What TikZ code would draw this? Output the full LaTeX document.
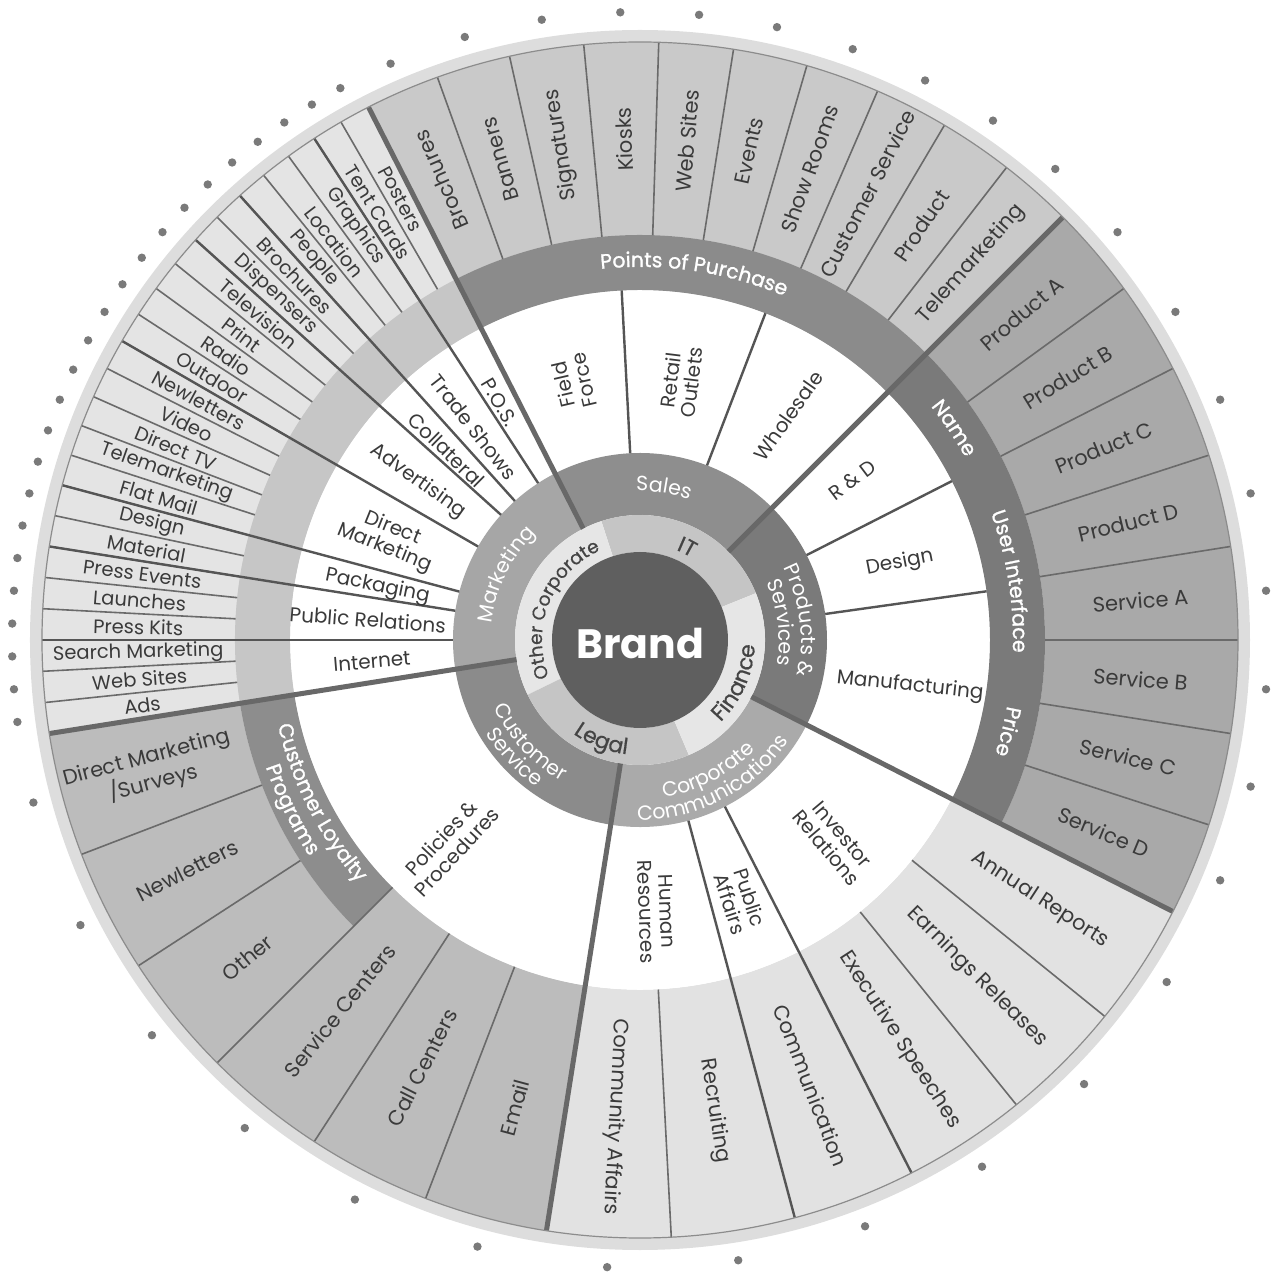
\documentclass[tikz,border=0pt]{standalone}
\usepackage{fontspec}
\setmainfont{Poppins}
\newfontfamily\semibold[FakeBold=1.2]{Poppins}
\newfontfamily\medweight[FakeBold=0.6]{Poppins}
\usetikzlibrary{decorations.text}
\definecolor{txt}{HTML}{3A3A3A}
\definecolor{ringtxt}{HTML}{444444}
\definecolor{cRim}{HTML}{DDDDDD}
\definecolor{cEdge}{HTML}{8C8C8C}
\definecolor{cMkSeg}{HTML}{E4E4E4}
\definecolor{cMkBand}{HTML}{C6C6C6}
\definecolor{cSaSeg}{HTML}{C9C9C9}
\definecolor{cSaBand}{HTML}{8B8B8B}
\definecolor{cPrSeg}{HTML}{A9A9A9}
\definecolor{cPrBand}{HTML}{7A7A7A}
\definecolor{cCcSeg}{HTML}{E2E2E2}
\definecolor{cCsSeg}{HTML}{BCBCBC}
\definecolor{cCsBand}{HTML}{8D8D8D}
\definecolor{cRSa}{HTML}{8E8E8E}
\definecolor{cRMk}{HTML}{A6A6A6}
\definecolor{cRPr}{HTML}{7A7A7A}
\definecolor{cRCs}{HTML}{8B8B8B}
\definecolor{cRCc}{HTML}{AAAAAA}
\definecolor{cIDark}{HTML}{C5C5C5}
\definecolor{cILight}{HTML}{E6E6E6}
\definecolor{cBrand}{HTML}{5F5F5F}
\definecolor{cDot}{HTML}{7A7A7A}
\definecolor{cSegLine}{HTML}{6A6A6A}
\definecolor{cGrpLine}{HTML}{555555}
\definecolor{cThick}{HTML}{686868}

\newcommand{\annsec}[5]{\fill[#5] (#1:#3pt) arc[start angle=#1, end angle=#2, radius=#3pt] -- (#2:#4pt) arc[start angle=#2, end angle=#1, radius=#4pt] -- cycle;}
\newcommand{\cwtext}[4]{\path[decorate,decoration={text along path,text align=center,text={|#3|#4}}] ({#2+80}:#1pt) arc[start angle={#2+80},end angle={#2-80},radius=#1pt];}
\newcommand{\ccwtext}[4]{\path[decorate,decoration={text along path,text align=center,text={|#3|#4}}] ({#2-80}:#1pt) arc[start angle={#2-80},end angle={#2+80},radius=#1pt];}
\newcommand{\ringfont}{\fontsize{20.5pt}{20.5pt}\selectfont\color{white}}
\newcommand{\innerfont}{\medweight\fontsize{18.5pt}{18.5pt}\selectfont\color{ringtxt}}
\newcommand{\innerbig}{\medweight\fontsize{22pt}{22pt}\selectfont\color{ringtxt}}
\newcommand{\bandfont}{\semibold\fontsize{20.5pt}{20.5pt}\selectfont\color{white}}

\begin{document}
\begin{tikzpicture}[x=1pt,y=1pt,
  seglbl/.style={font=\fontsize{21pt}{23pt}\selectfont, text=txt, align=center, inner sep=0pt},
  mklbl/.style={seglbl, font=\fontsize{19.5pt}{21pt}\selectfont},
  wlbl/.style={font=\fontsize{20pt}{21pt}\selectfont, text=txt, align=center, inner sep=0pt},
  segln/.style={draw=cSegLine, line width=1.6pt},
  grpln/.style={draw=cGrpLine, line width=2.4pt},
  thickln/.style={draw=cThick, line width=5pt},
  dotmark/.style={fill=cDot}]
\useasboundingbox (-640,-637) rectangle (638,640);

% rim and white field
\fill[cRim] (0,0) circle[radius=610pt];
\fill[white] (0,0) circle[radius=350pt];

% outer segments
\annsec{117}{189}{405}{598}{cMkSeg}
\annsec{45}{117}{405}{598}{cSaSeg}
\annsec{-27}{45}{405}{598}{cPrSeg}
\annsec{-99}{-27}{350}{598}{cCcSeg}
\annsec{189}{225}{405}{598}{cCsSeg}
\annsec{225}{261}{350}{598}{cCsSeg}
% bands
\annsec{117}{189}{350}{405}{cMkBand}
\annsec{45}{117}{350}{405}{cSaBand}
\annsec{-27}{45}{350}{405}{cPrBand}
\annsec{189}{225}{350}{405}{cCsBand}
% ring 3
\annsec{45}{117}{125}{187}{cRSa}
\annsec{117}{189}{125}{187}{cRMk}
\annsec{189}{261}{125}{187}{cRCs}
\annsec{261}{333}{125}{187}{cRCc}
\annsec{-27}{45}{125}{187}{cRPr}
% ring 2
\annsec{22}{108}{88}{125}{cIDark}
\annsec{108}{206}{88}{125}{cILight}
\annsec{206}{293}{88}{125}{cIDark}
\annsec{293}{382}{88}{125}{cILight}
% brand disk
\fill[cBrand] (0,0) circle[radius=88pt];
\node[font=\fontsize{41pt}{41pt}\selectfont\bfseries, text=white] (brand) at (0,-3) {Brand};

% segment lines
\foreach \k in {1,...,23} {\pgfmathsetmacro\ang{117+3*\k} \draw[segln] (\ang:405) -- (\ang:598);}
\foreach \ang in {123,132,138,150,165,171,180} {\draw[grpln] (\ang:187) -- (\ang:598);}
\foreach \k in {1,...,9} {\pgfmathsetmacro\ang{117-7.2*\k} \draw[segln] (\ang:405) -- (\ang:598);}
\foreach \ang in {93,69} {\draw[grpln] (\ang:187) -- (\ang:350);}
\foreach \k in {1,...,7} {\pgfmathsetmacro\ang{45-9*\k} \draw[segln] (\ang:405) -- (\ang:598);}
\foreach \ang in {27,8} {\draw[grpln] (\ang:187) -- (\ang:350);}
\foreach \ang in {-39,-51,-87} {\draw[segln] (\ang:350) -- (\ang:598);}
\foreach \ang in {-63,-75} {\draw[grpln] (\ang:187) -- (\ang:598);}
\foreach \ang in {201,213} {\draw[segln] (\ang:405) -- (\ang:598);}
\foreach \ang in {225,237,249} {\draw[segln] (\ang:350) -- (\ang:598);}
\foreach \ang in {117,45,-27,-99,189} {\draw[thickln] (\ang:125) -- (\ang:598);}
\draw[cEdge, line width=1.2pt] (0,0) circle[radius=598pt];

% dots
\foreach \k in {0,...,23} {\pgfmathsetmacro\ang{118.5+3*\k} \fill[dotmark] (\ang:628) circle[radius=4.2pt];}
\foreach \k in {0,...,9} {\pgfmathsetmacro\ang{113.4-7.2*\k} \fill[dotmark] (\ang:628) circle[radius=4.2pt];}
\foreach \k in {0,...,7} {\pgfmathsetmacro\ang{40.5-9*\k} \fill[dotmark] (\ang:628) circle[radius=4.2pt];}
\foreach \k in {0,...,5} {\pgfmathsetmacro\ang{-33-12*\k} \fill[dotmark] (\ang:628) circle[radius=4.2pt];}
\foreach \k in {0,...,5} {\pgfmathsetmacro\ang{195+12*\k} \fill[dotmark] (\ang:628) circle[radius=4.2pt];}

% outer labels: marketing
\foreach \a/\t [count=\i] in {118.5/Posters, 121.5/Tent Cards, 124.5/Graphics, 127.5/Location, 130.5/People, 133.5/Brochures, 136.5/Dispensers, 139.5/Television, 142.5/Print, 145.5/Radio, 148.5/Outdoor, 151.5/Newletters, 154.5/Video, 157.5/Direct TV, 160.5/Telemarketing, 163.5/Flat Mail, 166.5/Design, 169.5/Material, 172.5/Press Events, 175.5/Launches, 178.5/Press Kits, 181.5/Search Marketing, 184.5/Web Sites, 187.5/Ads}
  {\pgfmathsetmacro\rr{\a-180} \node[mklbl, rotate=\rr] (mk\i) at (\a:502) {\t};}
% sales
\foreach \a/\t [count=\i] in {113.4/Brochures, 106.2/Banners, 99/Signatures, 91.8/Kiosks, 84.6/Web Sites, 77.4/Events, 70.2/Show Rooms, 63/Customer Service, 55.8/Product, 48.6/Telemarketing}
  {\node[seglbl, rotate=\a] (sa\i) at (\a:501) {\t};}
% products
\foreach \a/\t [count=\i] in {40.5/Product A, 31.5/Product B, 22.5/Product C, 13.5/Product D, 4.5/Service A, -4.5/Service B, -13.5/Service C, -22.5/Service D}
  {\node[seglbl, rotate=\a] (pr\i) at (\a:502) {\t};}
% corporate communications
\foreach \a/\t [count=\i] in {-33/Annual Reports, -45/Earnings Releases, -57/Executive Speeches, -69/Communication, -81/Recruiting, -93/Community Affairs}
  {\node[seglbl, rotate=\a] (cc\i) at (\a:477) {\t};}
% customer service
\foreach \a/\r/\t [count=\i] in {195/507/{Direct Marketing\\/Surveys}, 207/508/Newletters, 219/505/Other, 231/477/Service Centers, 243/480/Call Centers, 255/484/Email}
  {\pgfmathsetmacro\rr{\a-180} \node[seglbl, rotate=\rr] (cs\i) at (\a:\r) {\t};}

% white ring labels
\foreach \a/\o/\r/\t [count=\i] in {120.5/-59.5/276/P.O.S., 128/-52/270/Trade Shows, 135.5/-44.5/271/Collateral, 144.5/-35.5/273/Advertising, 158/-22/271/{Direct\\Marketing}, 168.5/-11.5/268/Packaging, 175.7/-4.3/273/Public Relations, 184.6/4.6/269/Internet, 104.5/103/266/{Field\\Force}, 81/83/262/{Retail\\Outlets}, 56.5/55/269/Wholesale, 37/37/266/R \& D, 16.5/11/271/Design, -9.7/-6/274/Manufacturing, -46/-50/280/{Investor\\Relations}, -69/-72/279/{Public\\Affairs}, -86.5/-88/272/{Human\\Resources}, 227/47/280/{Policies \&\\Procedures}}
  {\node[wlbl, rotate=\o] (w\i) at (\a:\r) {\t};}

% ring 3 labels
\cwtext{149}{81}{\ringfont}{Sales}
\cwtext{149}{154}{\ringfont}{Marketing}
\cwtext{161}{7}{\ringfont}{Products {\&}}
\cwtext{139}{7}{\ringfont}{Services}
\ccwtext{161}{223}{\ringfont}{Customer}
\ccwtext{180}{223}{\ringfont}{Service}
\ccwtext{159}{297.5}{\ringfont}{Corporate}
\ccwtext{180}{297.5}{\ringfont}{Communications}
% ring 2 labels
\cwtext{97}{63}{\innerbig}{IT}
\cwtext{98}{158}{\innerfont}{Other Corporate}
\ccwtext{115}{249}{\innerbig}{Legal}
\ccwtext{115}{336}{\innerbig}{Finance}
% band labels
\cwtext{373}{81.6}{\bandfont}{Points of Purchase}
\cwtext{373}{34}{\bandfont}{Name}
\cwtext{373}{9}{\bandfont}{User Interface}
\cwtext{373}{-14}{\bandfont}{Price}
\ccwtext{372}{207}{\bandfont}{Customer Loyalty}
\ccwtext{395}{206}{\bandfont}{Programs}
\end{tikzpicture}
\end{document}
